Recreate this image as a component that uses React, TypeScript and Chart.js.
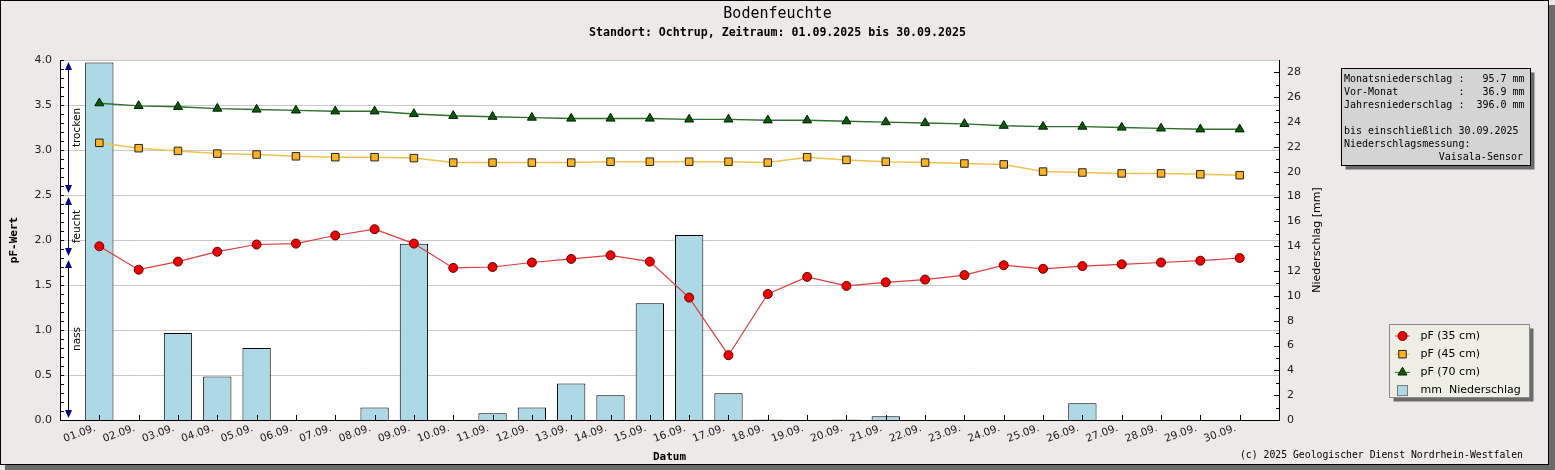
import React, { useEffect, useRef } from "react";
import { Chart, Plugin, registerables } from "chart.js";

Chart.register(...registerables);

const MONO = "'DejaVu Sans Mono', 'Liberation Mono', monospace";
const SANS = "'DejaVu Sans', 'Noto Sans', sans-serif";

// Tageswerte September 2025
const dateLabels = [
  "01.09.", "02.09.", "03.09.", "04.09.", "05.09.", "06.09.", "07.09.", "08.09.", "09.09.", "10.09.",
  "11.09.", "12.09.", "13.09.", "14.09.", "15.09.", "16.09.", "17.09.", "18.09.", "19.09.", "20.09.",
  "21.09.", "22.09.", "23.09.", "24.09.", "25.09.", "26.09.", "27.09.", "28.09.", "29.09.", "30.09.",
];
const pf35 = [
  1.93, 1.67, 1.76, 1.87, 1.95, 1.96, 2.05, 2.12, 1.96, 1.69,
  1.70, 1.75, 1.79, 1.83, 1.76, 1.36, 0.72, 1.40, 1.59, 1.49,
  1.53, 1.56, 1.61, 1.72, 1.68, 1.71, 1.73, 1.75, 1.77, 1.80,
];
const pf45 = [
  3.08, 3.02, 2.99, 2.96, 2.95, 2.93, 2.92, 2.92, 2.91, 2.86,
  2.86, 2.86, 2.86, 2.87, 2.87, 2.87, 2.87, 2.86, 2.92, 2.89,
  2.87, 2.86, 2.85, 2.84, 2.76, 2.75, 2.74, 2.74, 2.73, 2.72,
];
const pf70 = [
  3.52, 3.49, 3.48, 3.46, 3.45, 3.44, 3.43, 3.43, 3.40, 3.38,
  3.37, 3.36, 3.35, 3.35, 3.35, 3.34, 3.34, 3.33, 3.33, 3.32,
  3.31, 3.30, 3.29, 3.27, 3.26, 3.26, 3.25, 3.24, 3.23, 3.23,
];
const rainMm = [
  28.8, 0, 7.0, 3.5, 5.8, 0, 0, 1.0, 14.2, 0,
  0.55, 1.0, 2.95, 2.0, 9.4, 14.9, 2.15, 0.05, 0, 0.05,
  0.3, 0, 0, 0, 0, 1.35, 0, 0, 0, 0,
];
const seriesLabels = ["pF (35 cm)", "pF (45 cm)", "pF (70 cm)", "mm  Niederschlag"];

// Bodenfeuchte-Bereiche (pF)
const zoneLabels = ["trocken", "feucht", "nass"];
const zoneTop = [4.0, 2.5, 1.8];
const zoneBottom = [2.5, 1.8, 0.0];

// Infobox
const infoNames = ["Monatsniederschlag", "Vor-Monat", "Jahresniederschlag"];
const infoValues = [95.7, 36.9, 396.0];
const infoUntil = "30.09.2025";
const infoSensor = "Vaisala-Sensor";

const toPoints = (values: number[]) => values.map((y, i) => ({ x: i + 1, y }));

const drawMarker = (ctx: CanvasRenderingContext2D, style: string, x: number, y: number, r: number, fill: string, stroke: string) => {
  ctx.beginPath();
  if (style === "circle") {
    ctx.arc(x, y, r, 0, Math.PI * 2);
  } else if (style === "rect") {
    const s = r * Math.SQRT1_2;
    ctx.rect(x - s, y - s, 2 * s, 2 * s);
  } else {
    ctx.moveTo(x, y - r);
    ctx.lineTo(x + r * 0.866, y + r * 0.5);
    ctx.lineTo(x - r * 0.866, y + r * 0.5);
    ctx.closePath();
  }
  ctx.fillStyle = fill;
  ctx.fill();
  ctx.strokeStyle = stroke;
  ctx.lineWidth = 1;
  ctx.stroke();
};

const decorPlugin: Plugin<"bar"> = {
  id: "decor",
  beforeDraw(chart) {
    const { ctx, width, height, chartArea: a } = chart;
    ctx.save();
    ctx.fillStyle = "#ece9e8";
    ctx.fillRect(0, 0, width, height);
    ctx.fillStyle = "#6b6b6b";
    ctx.fillRect(width - 6, 5, 6, height - 5);
    ctx.fillRect(5, height - 5, width - 5, 5);
    ctx.strokeStyle = "#000";
    ctx.lineWidth = 1;
    ctx.strokeRect(0.5, 0.5, width - 7, height - 6);
    ctx.fillStyle = "#fff";
    ctx.fillRect(a.left, a.top, a.right - a.left, a.bottom - a.top);
    ctx.restore();
  },
  afterDatasetsDraw(chart) {
    const { ctx, chartArea: a } = chart;
    const xs = chart.scales.x;
    const yl = chart.scales.y;
    const yr = chart.scales.y1;
    ctx.save();
    // Achsenstriche nach innen
    ctx.strokeStyle = "#000";
    ctx.lineWidth = 1;
    ctx.beginPath();
    dateLabels.forEach((_, i) => {
      const px = Math.round(xs.getPixelForValue(i + 1)) + 0.5;
      ctx.moveTo(px, a.bottom);
      ctx.lineTo(px, a.bottom - 5);
    });
    for (let k = 0; k <= 40; k++) {
      const py = Math.round(yl.getPixelForValue(k / 10)) + 0.5;
      ctx.moveTo(a.left, py);
      ctx.lineTo(a.left + 4, py);
    }
    for (let k = 0; k <= 28; k++) {
      const py = Math.round(yr.getPixelForValue(k)) + 0.5;
      ctx.moveTo(a.right, py);
      ctx.lineTo(a.right - (k % 2 === 0 ? 5 : 3), py);
    }
    ctx.stroke();

    // Bereichspfeile
    const ax = a.left + 8.5;
    zoneLabels.forEach((label, i) => {
      const yTop = yl.getPixelForValue(zoneTop[i]) + 2;
      const yBot = yl.getPixelForValue(zoneBottom[i]) - 2;
      ctx.strokeStyle = i === 2 ? "#000" : "#000080";
      ctx.beginPath();
      ctx.moveTo(ax, yTop + 4);
      ctx.lineTo(ax, yBot - 4);
      ctx.stroke();
      ctx.fillStyle = "#000080";
      ctx.beginPath();
      ctx.moveTo(ax, yTop);
      ctx.lineTo(ax + 3.5, yTop + 8);
      ctx.lineTo(ax - 3.5, yTop + 8);
      ctx.closePath();
      ctx.moveTo(ax, yBot);
      ctx.lineTo(ax + 3.5, yBot - 8);
      ctx.lineTo(ax - 3.5, yBot - 8);
      ctx.closePath();
      ctx.fill();
      ctx.save();
      ctx.translate(ax + 8.5, (yTop + yBot) / 2);
      ctx.rotate(-Math.PI / 2);
      ctx.fillStyle = "#000";
      ctx.font = `10.5px ${SANS}`;
      ctx.textAlign = "center";
      ctx.textBaseline = "middle";
      ctx.fillText(label, 0, 0);
      ctx.restore();
    });
    ctx.restore();
  },
  afterDraw(chart) {
    const { ctx, chartArea: a } = chart;
    ctx.save();
    // rechte Achsenbeschriftung
    ctx.save();
    ctx.translate(a.right + 38, (a.top + a.bottom) / 2);
    ctx.rotate(-Math.PI / 2);
    ctx.font = `11px ${SANS}`;
    ctx.fillStyle = "#000";
    ctx.textAlign = "center";
    ctx.textBaseline = "middle";
    ctx.fillText("Niederschlag [mm]", 0, 0);
    ctx.restore();

    // Infobox
    const bx = 1341.5, by = 68.5, bw = 189, bh = 97;
    ctx.fillStyle = "#6b6b6b";
    ctx.fillRect(bx + 4, by + 4, bw, bh);
    ctx.fillStyle = "#d4d4d4";
    ctx.fillRect(bx, by, bw, bh);
    ctx.strokeStyle = "#000";
    ctx.strokeRect(bx, by, bw, bh);
    ctx.fillStyle = "#000";
    ctx.font = `10px ${MONO}`;
    ctx.textBaseline = "middle";
    ctx.textAlign = "left";
    const lines = infoNames.map((n, i) => `${n.padEnd(18)} : ${infoValues[i].toFixed(1).padStart(6)} mm`);
    lines.push("", `bis einschließlich ${infoUntil}`, "Niederschlagsmessung:");
    lines.forEach((t, i) => ctx.fillText(t, 1344, 79.5 + i * 13));
    ctx.textAlign = "right";
    ctx.fillText(infoSensor, 1523, 79.5 + 6 * 13);

    // Legende
    const lx = 1389.5, ly = 324.5, lw = 140, lh = 73;
    ctx.fillStyle = "#6b6b6b";
    ctx.fillRect(lx + 4, ly + 4, lw, lh);
    ctx.fillStyle = "#eeeee4";
    ctx.fillRect(lx, ly, lw, lh);
    ctx.strokeStyle = "#888";
    ctx.strokeRect(lx, ly, lw, lh);
    ctx.font = `11px ${SANS}`;
    ctx.textAlign = "left";
    chart.data.datasets.forEach((ds: any, i) => {
      const cy = 336 + i * 18.2;
      if (ds.type === "line") {
        ctx.strokeStyle = ds.borderColor;
        ctx.lineWidth = 1;
        ctx.beginPath();
        ctx.moveTo(1395, cy);
        ctx.lineTo(1410, cy);
        ctx.stroke();
        drawMarker(ctx, ds.pointStyle, 1402.5, cy, ds.pointRadius, ds.pointBackgroundColor, ds.pointBorderColor);
      } else {
        ctx.fillStyle = ds.backgroundColor;
        ctx.fillRect(1397.5, cy - 5, 10, 10);
        ctx.strokeStyle = "#777";
        ctx.lineWidth = 1;
        ctx.strokeRect(1397.5, cy - 5, 10, 10);
      }
      ctx.fillStyle = "#000";
      ctx.fillText(ds.label, 1420.5, cy);
    });

    // Copyright
    ctx.font = `9.8px ${MONO}`;
    ctx.textAlign = "right";
    ctx.fillStyle = "#000";
    ctx.fillText("(c) 2025 Geologischer Dienst Nordrhein-Westfalen", 1523, 455);
    ctx.restore();
  },
};

const SoilMoistureChart: React.FC = () => {
  const chartRef = useRef<HTMLCanvasElement | null>(null);

  useEffect(() => {
    if (!chartRef.current) return;
    const ctx = chartRef.current.getContext("2d");
    if (!ctx) return;

    const myChart = new Chart(ctx, {
      type: "bar",
      data: {
        datasets: [
          {
            type: "line",
            label: seriesLabels[0],
            data: toPoints(pf35),
            yAxisID: "y",
            borderColor: "#e23b3b",
            borderWidth: 1.2,
            pointStyle: "circle",
            pointRadius: 4.5,
            pointBackgroundColor: "#ee0000",
            pointBorderColor: "#6a0000",
            pointBorderWidth: 1,
            order: 1,
          },
          {
            type: "line",
            label: seriesLabels[1],
            data: toPoints(pf45),
            yAxisID: "y",
            borderColor: "#f2c24f",
            borderWidth: 1.5,
            pointStyle: "rect",
            pointRadius: 5.3,
            pointBackgroundColor: "#ffb320",
            pointBorderColor: "#222",
            pointBorderWidth: 1,
            order: 2,
          },
          {
            type: "line",
            label: seriesLabels[2],
            data: toPoints(pf70),
            yAxisID: "y",
            borderColor: "#2f6f2f",
            borderWidth: 1.4,
            pointStyle: "triangle",
            pointRadius: 5.2,
            pointBackgroundColor: "#0b5a0b",
            pointBorderColor: "#002200",
            pointBorderWidth: 1,
            order: 3,
          },
          {
            type: "bar",
            label: seriesLabels[3],
            data: toPoints(rainMm),
            yAxisID: "y1",
            backgroundColor: "#add8e6",
            borderColor: "#000",
            borderWidth: 1,
            barPercentage: 0.72,
            categoryPercentage: 1,
            order: 4,
          },
        ] as any,
      },
      options: {
        responsive: false,
        animation: false,
        devicePixelRatio: 1,
        events: [],
        layout: { padding: 0 },
        plugins: {
          legend: { display: false },
          tooltip: { enabled: false },
          title: {
            display: true,
            text: "Bodenfeuchte",
            color: "#000",
            font: { family: MONO, size: 15, weight: "normal", lineHeight: 1.2 },
            padding: { top: 5, bottom: 1 },
          },
          subtitle: {
            display: true,
            text: "Standort: Ochtrup, Zeitraum: 01.09.2025 bis 30.09.2025",
            color: "#000",
            font: { family: MONO, size: 11.6, weight: "bold", lineHeight: 1.2 },
            padding: { top: 2, bottom: 20.08 },
          },
        },
        scales: {
          x: {
            type: "linear",
            min: 0,
            max: 31,
            offset: false,
            afterFit: (s: any) => {
              s.height = 50;
            },
            grid: { display: false, drawTicks: false },
            border: { display: true, color: "#000" },
            ticks: {
              stepSize: 1,
              autoSkip: false,
              maxRotation: 20,
              minRotation: 20,
              padding: 2,
              labelOffset: -4,
              color: "#1a1a1a",
              font: { family: SANS, size: 10.5 },
              callback: (v: any) => dateLabels[Number(v) - 1] ?? "",
            },
            title: {
              display: true,
              text: "Datum",
              color: "#000",
              font: { family: MONO, size: 11, weight: "bold", lineHeight: 1.2 },
              padding: { top: 0, bottom: 6.4 },
            },
          },
          y: {
            position: "left",
            min: 0,
            max: 4,
            afterFit: (s: any) => {
              s.width = 60;
            },
            grid: { color: "#cacaca", drawTicks: false },
            border: { color: "#000" },
            ticks: {
              stepSize: 0.5,
              padding: 8,
              color: "#222",
              font: { family: SANS, size: 11 },
              callback: (v: any) => Number(v).toFixed(1),
            },
            title: {
              display: true,
              text: "pF-Wert",
              color: "#000",
              font: { family: MONO, size: 11, weight: "bold", lineHeight: 1.2 },
              padding: { top: 8, bottom: 0 },
            },
          },
          y1: {
            position: "right",
            min: 0,
            max: 29,
            afterFit: (s: any) => {
              s.width = 276;
            },
            grid: { display: false, drawTicks: false },
            border: { color: "#000" },
            ticks: {
              stepSize: 2,
              includeBounds: false,
              padding: 8,
              color: "#222",
              font: { family: SANS, size: 11 },
            },
          },
        },
      } as any,
      plugins: [decorPlugin],
    });

    return () => {
      myChart.destroy();
    };
  }, []);

  return (
    <div style={{ position: "absolute", left: 0, top: 0, width: 1555, height: 470 }}>
      <canvas ref={chartRef} width={1555} height={470} style={{ display: "block" }} />
    </div>
  );
};

export default function App() {
  return <SoilMoistureChart />;
}
